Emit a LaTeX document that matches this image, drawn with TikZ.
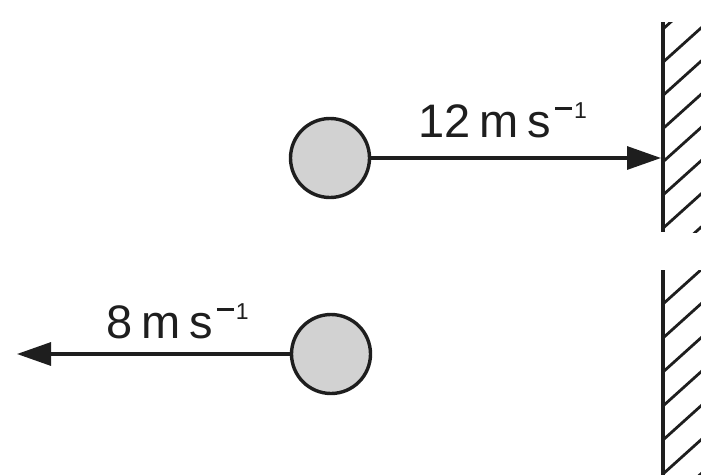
\documentclass[tikz,border=0pt]{standalone}
\usepackage{fontspec}
\setmainfont{Liberation Sans}
\usetikzlibrary{arrows.meta}
\definecolor{ballgray}{RGB}{210,210,210}
\definecolor{ink}{RGB}{30,30,30}
\newcommand{\supm}{\hspace{4pt}\raisebox{27pt}{\rule{17pt}{2.6pt}}\hspace{2pt}\raisebox{19pt}{\fontsize{23}{23}\selectfont 1}}
\begin{document}
\begin{tikzpicture}[x=1pt,y=-1pt,
  ball/.style={circle,draw=ink,fill=ballgray,line width=3.4pt,minimum size=79pt,inner sep=0pt},
  vel/.style={draw=ink,line width=3.2pt,-{Triangle[length=34pt,width=23pt]}},
  wall/.style={draw=ink,line width=4pt},
  hatch/.style={draw=ink,line width=2.8pt},
  lbl/.style={anchor=base west,inner sep=0pt,text=ink,font=\fontsize{47}{47}\selectfont}]
\useasboundingbox (0,0) rectangle (701,474);
% walls
\coordinate (w1top) at (663,22);
\coordinate (w1bot) at (663,232);
\coordinate (w2top) at (663,270);
\coordinate (w2bot) at (663,476);
\begin{scope}
  \clip (663,22) rectangle (705,232);
  \foreach \k in {0,...,7} {
    \draw[hatch] (663,{29+33.2*\k}) -- ++(60,-54);
  }
\end{scope}
\begin{scope}
  \clip (663,270) rectangle (705,476);
  \foreach \k in {0,...,7} {
    \draw[hatch] (663,{270+34*\k}) -- ++(60,-54);
  }
\end{scope}
\draw[wall] (w1top) -- (w1bot);
\draw[wall] (w2top) -- (w2bot);
% balls
\node[ball] (b1) at (330,158) {};
\node[ball] (b2) at (331,354) {};
\coordinate (hit) at (661,158);
\coordinate (tip2) at (17,354);
\draw[vel] (b1.east) -- (hit);
\draw[vel] (b2.west) -- (tip2);
% labels
\node[lbl] (v1) at (418,137) {12\hspace{9pt}m\hspace{9pt}s\supm};
\node[lbl] (v2) at (106,338) {8\hspace{9pt}m\hspace{9pt}s\supm};
\end{tikzpicture}
\end{document}
